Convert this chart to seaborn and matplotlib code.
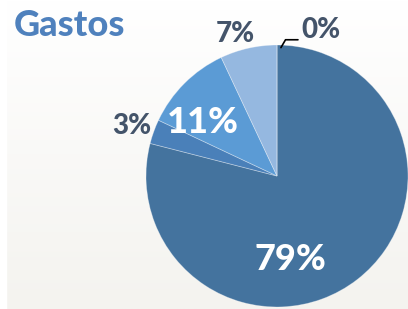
import numpy as np
import matplotlib
matplotlib.use("Agg")
import matplotlib.pyplot as plt
import seaborn as sns
from matplotlib.colors import LinearSegmentedColormap

# Data
categories = ["A", "B", "C", "D", "E"]
values = [79, 3, 11, 7, 0]
labels = ["79%", "3%", "11%", "7%", "0%"]
colors = ["#44739e", "#4a80b9", "#5b9bd5", "#95b8e0", "#c5d7ee"]

sns.set_theme(style="white")
plt.rcParams['font.family'] = ['Lato', 'DejaVu Sans']

W, H = 408, 309
fig = plt.figure(figsize=(W / 100, H / 100), dpi=100)
ax = fig.add_axes([0, 0, 1, 1])

# background gradient
grad = np.linspace(0, 1, 256).reshape(-1, 1)
cmap = LinearSegmentedColormap.from_list("bg", ["#ffffff", "#f4f3ef"])
ax.imshow(grad, extent=[6, W, 0, H], cmap=cmap, aspect="auto", origin="upper", zorder=0)
ax.add_patch(plt.Rectangle((0, 0), 6, H, color="white", zorder=0.5))

cx, cy, r = 277, H - 176, 131
wedges, _ = ax.pie(values, colors=colors, startangle=90, counterclock=False,
                   center=(cx, cy), radius=r, frame=True,
                   wedgeprops=dict(linewidth=0.6, edgecolor=(1, 1, 1, 0.35)))
ax.set_xlim(0, W)
ax.set_ylim(0, H)
ax.set_aspect("auto")
ax.axis("off")

# labels (offsets relative to pie center, in units of radius)
offsets = [(0.10, -0.64), (-1.11, 0.38), (-0.565, 0.41), (-0.32, 1.085), (0.335, 1.115)]
inside = [True, False, True, False, False]
for lab, (ox, oy), ins in zip(labels, offsets, inside):
    ax.text(cx + ox * r, cy + oy * r, lab, ha="center", va="center",
            fontsize=26 if ins else 20, fontweight=900,
            color="white" if ins else "#44546a", zorder=5)

# leader line for the 0% slice
ax.plot([cx + 0.03 * r, cx + 0.065 * r, cx + 0.16 * r],
        [cy + 0.98 * r, cy + 1.04 * r, cy + 1.04 * r],
        color="black", lw=1.2, zorder=5)

fig.text(14 / W, 1 - 26 / H, "Gastos", ha="left", va="center",
         fontsize=26, fontweight=900, color="#4f81bd")

fig.savefig("out.png", dpi=100)
